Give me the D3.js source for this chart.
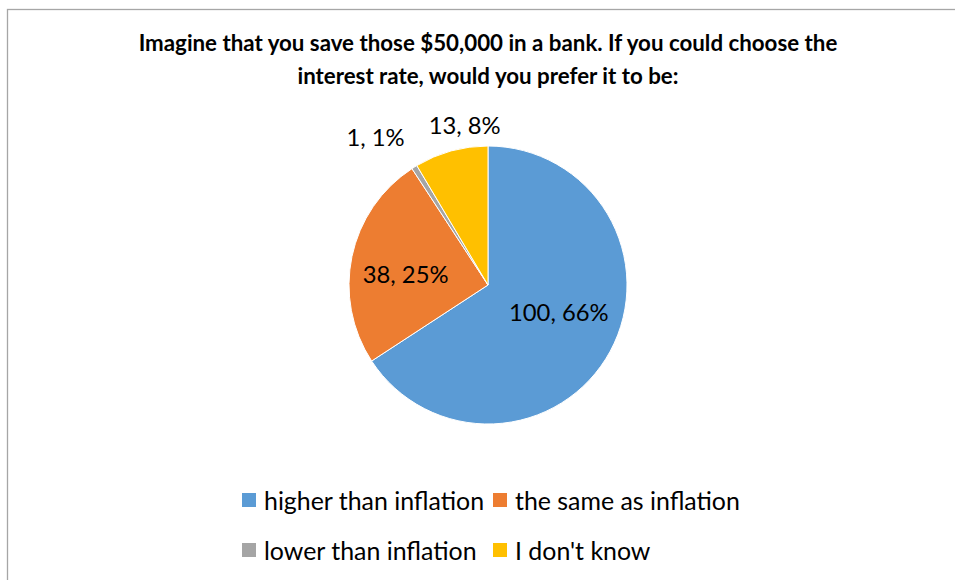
<!DOCTYPE html>
<html>
<head>
<meta charset="utf-8">
<script src="https://cdn.jsdelivr.net/npm/d3@7"></script>
<style>
  html, body { margin: 0; padding: 0; background: #fff; }
  svg { display: block; }
  text { font-family: Lato, "Open Sans", "Liberation Sans", sans-serif; fill: #000; }
</style>
</head>
<body>
<svg id="chart" width="955" height="580"></svg>
<script>
// Survey answers
const categories = ["higher than inflation", "the same as inflation", "lower than inflation", "I don't know"];
const counts = [100, 38, 1, 13];
const percentLabels = ["66%", "25%", "1%", "8%"];
const colors = ["#5B9BD5", "#ED7D31", "#A5A5A5", "#FFC000"];
const titleLines = [
  "Imagine that you save those $50,000 in a bank. If you could choose the",
  "interest rate, would you prefer it to be:"
];

const W = 955, H = 580;
const svg = d3.select("#chart");

// chart frame
svg.append("rect")
  .attr("x", 7.5).attr("y", 9.5)
  .attr("width", 960).attr("height", 600)
  .attr("fill", "#fff").attr("stroke", "#A6A6A6").attr("stroke-width", 1.3);

// title
const title = svg.append("g");
titleLines.forEach((t, i) => {
  title.append("text")
    .attr("x", 488).attr("y", 51 + i * 33)
    .attr("text-anchor", "middle")
    .attr("font-weight", "bold")
    .attr("font-size", 22.3)
    .text(t);
});

// pie
const cx = 488, cy = 285, r = 139;
const pie = d3.pie().sort(null).value(d => d.v);
const data = categories.map((c, i) => ({ c, v: counts[i], p: percentLabels[i], col: colors[i] }));
const arcs = pie(data);
const arc = d3.arc().innerRadius(0).outerRadius(r);

const g = svg.append("g").attr("transform", `translate(${cx},${cy})`);
g.selectAll("path").data(arcs).join("path")
  .attr("d", arc)
  .attr("fill", d => d.data.col)
  .attr("stroke", "#fff")
  .attr("stroke-width", 1);

// data labels: large slices inside, small ones outside the rim
const labelNudge = [[-5, -14], [2, 7], [-30, -16], [18, -10]];
const labelRadius = d => (d.data.v / d3.sum(counts) > 0.15 ? r * 0.62 : r * 1.12);
g.selectAll("text.lbl").data(arcs).join("text")
  .attr("class", "lbl")
  .attr("text-anchor", "middle")
  .attr("dominant-baseline", "central")
  .attr("font-size", 23.8)
  .attr("transform", (d, i) => {
    const a = (d.startAngle + d.endAngle) / 2;
    const rr = labelRadius(d);
    const x = Math.sin(a) * rr + labelNudge[i][0];
    const y = -Math.cos(a) * rr + labelNudge[i][1];
    return `translate(${x},${y})`;
  })
  .text(d => `${d.data.v}, ${d.data.p}`);

// legend, two rows of two
const legendX = [242, 493];
const legendY = [500, 550];
const leg = svg.append("g");
data.forEach((d, i) => {
  const col = i % 2, row = Math.floor(i / 2);
  leg.append("rect")
    .attr("x", legendX[col]).attr("y", legendY[row] - 7)
    .attr("width", 14).attr("height", 14)
    .attr("fill", d.col);
  leg.append("text")
    .attr("x", legendX[col] + 22).attr("y", legendY[row])
    .attr("dominant-baseline", "central")
    .attr("font-size", 24.9)
    .text(d.c);
});
</script>
</body>
</html>
